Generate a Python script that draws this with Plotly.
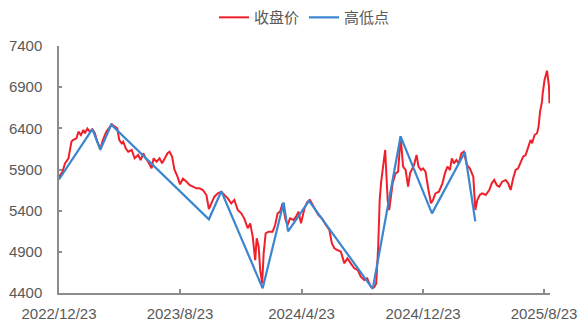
import plotly.graph_objects as go

# 收盘价 (close) series
close_dates = [
    "2022-12-23", "2022-12-30", "2023-01-04", "2023-01-11", "2023-01-17", "2023-01-20",
    "2023-01-27", "2023-01-31", "2023-02-05", "2023-02-10", "2023-02-13", "2023-02-18",
    "2023-02-23", "2023-02-28", "2023-03-05", "2023-03-10", "2023-03-16", "2023-03-21",
    "2023-03-28", "2023-04-04", "2023-04-08", "2023-04-14", "2023-04-19", "2023-04-23",
    "2023-04-28", "2023-05-01", "2023-05-06", "2023-05-11", "2023-05-18", "2023-05-24",
    "2023-05-31", "2023-06-05", "2023-06-10", "2023-06-15", "2023-06-20", "2023-06-27",
    "2023-07-01", "2023-07-07", "2023-07-13", "2023-07-18", "2023-07-23", "2023-07-29",
    "2023-08-02", "2023-08-07", "2023-08-12", "2023-08-18", "2023-08-23", "2023-08-29",
    "2023-09-05", "2023-09-11", "2023-09-18", "2023-09-25", "2023-10-01", "2023-10-08",
    "2023-10-15", "2023-10-20", "2023-10-25", "2023-10-31", "2023-11-07", "2023-11-14",
    "2023-11-20", "2023-11-27", "2023-12-04", "2023-12-10", "2023-12-17", "2023-12-24",
    "2023-12-30", "2024-01-06", "2024-01-11", "2024-01-16", "2024-01-21", "2024-01-24",
    "2024-01-28", "2024-01-31", "2024-02-04", "2024-02-07", "2024-02-11", "2024-02-17",
    "2024-02-25", "2024-03-01", "2024-03-06", "2024-03-11", "2024-03-16", "2024-03-22",
    "2024-03-26", "2024-03-31", "2024-04-07", "2024-04-12", "2024-04-17", "2024-04-22",
    "2024-04-29", "2024-05-05", "2024-05-10", "2024-05-15", "2024-05-21", "2024-05-27",
    "2024-06-03", "2024-06-11", "2024-06-18", "2024-06-23", "2024-06-28", "2024-07-04",
    "2024-07-11", "2024-07-18", "2024-07-24", "2024-07-31", "2024-08-07", "2024-08-14",
    "2024-08-20", "2024-08-27", "2024-09-02", "2024-09-09", "2024-09-16", "2024-09-20",
    "2024-09-24", "2024-09-27", "2024-09-30", "2024-10-08", "2024-10-13", "2024-10-16",
    "2024-10-23", "2024-10-29", "2024-11-03", "2024-11-07", "2024-11-08", "2024-11-13",
    "2024-11-18", "2024-11-23", "2024-11-27", "2024-12-05", "2024-12-10", "2024-12-14",
    "2024-12-19", "2024-12-23", "2024-12-28", "2025-01-03", "2025-01-08", "2025-01-12",
    "2025-01-17", "2025-01-24", "2025-01-31", "2025-02-05", "2025-02-10", "2025-02-15",
    "2025-02-19", "2025-02-23", "2025-02-28", "2025-03-05", "2025-03-10", "2025-03-15",
    "2025-03-21", "2025-03-27", "2025-04-03", "2025-04-07", "2025-04-11", "2025-04-16",
    "2025-04-21", "2025-04-28", "2025-05-05", "2025-05-10", "2025-05-15", "2025-05-20",
    "2025-05-25", "2025-05-31", "2025-06-07", "2025-06-12", "2025-06-17", "2025-06-22",
    "2025-06-27", "2025-07-02", "2025-07-07", "2025-07-12", "2025-07-17", "2025-07-22",
    "2025-07-27", "2025-07-30", "2025-08-04", "2025-08-09", "2025-08-12", "2025-08-15",
    "2025-08-19", "2025-08-20", "2025-08-24", "2025-08-29", "2025-09-02", "2025-09-03",
]
close_values = [
    5810, 5873, 5975, 6036, 6238, 6258,
    6279, 6359, 6319, 6380, 6340, 6397,
    6359, 6388, 6340, 6238, 6150, 6258,
    6359, 6420, 6449, 6420, 6400, 6258,
    6218, 6238, 6157, 6116, 6137, 6036,
    6076, 6015, 6097, 6036, 5995, 5914,
    6036, 5995, 6036, 5975, 6036, 6097,
    6116, 6056, 5894, 5813, 5720, 5790,
    5752, 5712, 5691, 5671, 5671, 5651,
    5590, 5420, 5489, 5570, 5610, 5630,
    5590, 5550, 5489, 5530, 5408, 5368,
    5307, 5186, 5246, 5084, 4800, 5064,
    4962, 4679, 4517, 4882, 5125, 5145,
    5145, 5226, 5368, 5388, 5489, 5287,
    5226, 5307, 5287, 5327, 5388, 5246,
    5429, 5509, 5530, 5469, 5408, 5347,
    5307, 5226, 5165, 5003, 4943, 4922,
    4902, 4760, 4821, 4760, 4700, 4679,
    4598, 4558, 4578, 4477, 4470, 4517,
    4962, 5530, 5752, 6137, 5530, 5408,
    5732, 5854, 5873, 6218, 6299, 5934,
    5894, 5691, 5854, 5955, 6076, 5934,
    5894, 5914, 5873, 5651, 5489, 5530,
    5610, 5630, 5732, 5854, 5934, 5894,
    6036, 5975, 6015, 5975, 6097, 6116,
    5955, 5914, 5813, 5408, 5530, 5590,
    5610, 5590, 5651, 5732, 5773, 5712,
    5691, 5752, 5773, 5732, 5651, 5793,
    5894, 5914, 5995, 6056, 6076, 6177,
    6258, 6218, 6319, 6340, 6420, 6600,
    6724, 6805, 6987, 7100, 6906, 6704,
]

# 高低点 (swing high / low) series
pivot_dates = [
    "2022-12-23", "2023-02-28", "2023-03-16", "2023-04-07", "2023-10-20",
    "2023-11-14", "2024-02-05", "2024-03-18", "2024-03-27", "2024-05-08",
    "2024-09-13", "2024-11-08", "2025-01-10", "2025-03-17", "2025-04-07",
]
pivot_values = [
    5780, 6390, 6140, 6445, 5295,
    5635, 4457, 5500, 5148, 5520,
    4450, 6303, 5367, 6110, 5270,
]

x_tick_dates = ["2022-12-23", "2023-08-23", "2024-04-23", "2024-12-23", "2025-08-23"]
x_tick_labels = ["2022/12/23", "2023/8/23", "2024/4/23", "2024/12/23", "2025/8/23"]
y_ticks = [4400, 4900, 5400, 5900, 6400, 6900, 7400]

FONT = "Arial, Liberation Sans, Noto Sans CJK SC, sans-serif"
AXIS = "#8c8c8c"
TXT = "#595959"

fig = go.Figure()
fig.add_trace(go.Scatter(
    x=close_dates, y=close_values, mode="lines", name="收盘价",
    line=dict(color="#f0202a", width=2),
))
fig.add_trace(go.Scatter(
    x=pivot_dates, y=pivot_values, mode="lines", name="高低点",
    line=dict(color="#3a86d0", width=2.2),
))

fig.update_layout(
    width=585, height=327,
    margin=dict(l=59, r=35, t=46, b=34, autoexpand=False),
    paper_bgcolor="white", plot_bgcolor="white",
    font=dict(family=FONT, size=15, color=TXT),
    showlegend=True,
    legend=dict(
        orientation="h", x=0.5, xanchor="center", y=1.115, yanchor="middle",
        font=dict(size=15, color=TXT), itemwidth=30, tracegroupgap=0,
        bgcolor="rgba(0,0,0,0)",
    ),
    xaxis=dict(
        type="date", range=["2022-12-23", "2025-09-04"],
        tickvals=x_tick_dates, ticktext=x_tick_labels,
        showgrid=False, zeroline=False, automargin=False,
        showline=True, linecolor=AXIS, linewidth=1.5,
        ticks="inside", ticklen=4, tickcolor=AXIS, tickwidth=1.5,
        tickfont=dict(size=15, color=TXT), ticklabelstandoff=6,
    ),
    yaxis=dict(
        range=[4400, 7400], tickvals=y_ticks,
        showgrid=False, zeroline=False, automargin=False,
        showline=True, linecolor=AXIS, linewidth=1.5,
        ticks="inside", ticklen=3, tickcolor=AXIS, tickwidth=1.5,
        tickfont=dict(size=15, color=TXT), ticklabelstandoff=12,
    ),
)

fig.write_html("out.html")
